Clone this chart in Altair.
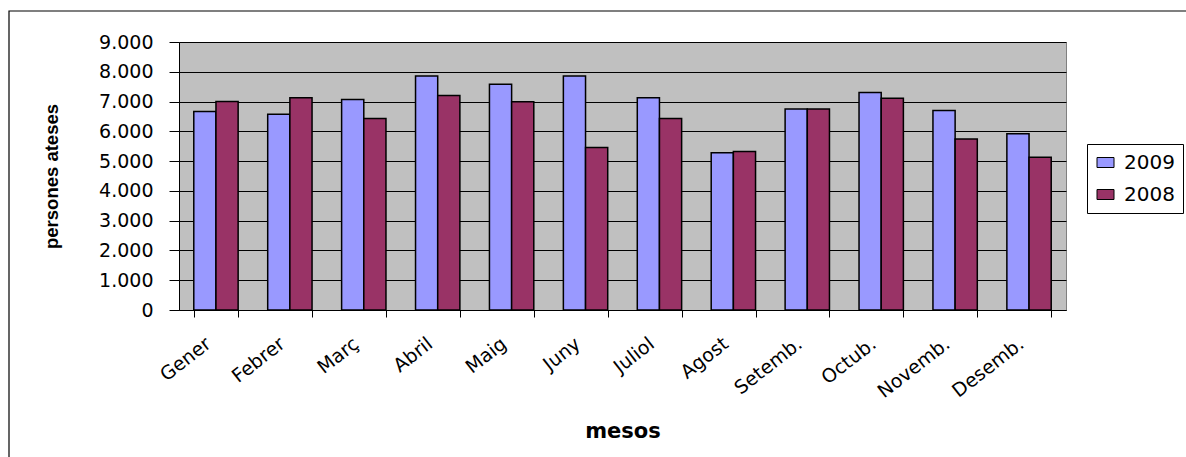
import altair as alt
import pandas as pd

# Monthly counts of people attended, two years side by side
months = ["Gener", "Febrer", "Març", "Abril", "Maig", "Juny",
          "Juliol", "Agost", "Setemb.", "Octub.", "Novemb.", "Desemb."]
years = ["2009", "2008"]
attended_2009 = [6670, 6570, 7070, 7860, 7580, 7860, 7130, 5280, 6750, 7300, 6700, 5920]
attended_2008 = [7000, 7130, 6430, 7200, 6990, 5460, 6430, 5320, 6750, 7110, 5740, 5130]
y_ticks = [0, 1000, 2000, 3000, 4000, 5000, 6000, 7000, 8000, 9000]

rows = []
for i, m in enumerate(months):
    rows.append({"mes": m, "any": "2009", "persones": attended_2009[i]})
    rows.append({"mes": m, "any": "2008", "persones": attended_2008[i]})
df = pd.DataFrame(rows)

FONT = "DejaVu Sans"
W, H = 887, 268

bars = alt.Chart(df).mark_bar(stroke="black", strokeWidth=1.5).encode(
    x=alt.X(
        "mes:N",
        sort=months,
        scale=alt.Scale(paddingInner=0.4, paddingOuter=0.2),
        axis=alt.Axis(
            title="mesos",
            titleFont=FONT,
            titleFontSize=21,
            titleFontWeight="bold",
            titleColor="black",
            titleX=W / 2,
            titleY=121,
            titleBaseline="middle",
            labelAngle=-38,
            labelAlign="right",
            labelBaseline="middle",
            labelFont=FONT,
            labelFontSize=19,
            labelColor="black",
            labelPadding=24,
            labelOffset=-8,
            tickBand="extent",
            tickSize=7,
            tickColor="black",
            domainColor="black",
            grid=False,
        ),
    ),
    xOffset=alt.XOffset("any:N", sort=years),
    y=alt.Y(
        "persones:Q",
        scale=alt.Scale(domain=[0, 9000], nice=False),
        axis=alt.Axis(
            title="persones ateses",
            titleFont="Liberation Sans",
            titleFontSize=18.5,
            titleFontWeight="bold",
            titleColor="black",
            titleX=-128,
            titleY=H / 2,
            titleAlign="center",
            titleBaseline="middle",
            values=y_ticks,
            labelExpr="replace(format(datum.value, ','), ',', '.')",
            labelFont=FONT,
            labelFontSize=19,
            labelColor="black",
            labelPadding=16,
            tickSize=10,
            tickColor="black",
            domainColor="black",
            grid=True,
            gridColor="black",
            gridWidth=1,
        ),
    ),
    color=alt.Color(
        "any:N",
        sort=years,
        scale=alt.Scale(domain=years, range=["#9999FF", "#993366"]),
        legend=alt.Legend(
            title=None,
            orient="none",
            legendX=908,
            legendY=102,
            symbolType="M-0.85,-0.5H0.85V0.5H-0.85Z",
            symbolSize=400,
            symbolStrokeColor="black",
            symbolStrokeWidth=1,
            symbolOpacity=1,
            labelFont=FONT,
            labelFontSize=20,
            labelColor="black",
            labelOffset=8,
            rowPadding=11,
            padding=8,
            strokeColor="black",
            fillColor="white",
        ),
    ),
)

# Frame around the whole chart
frame = alt.Chart(pd.DataFrame({"k": [0]})).mark_rect(
    fill=None, stroke="black", strokeWidth=1.2, clip=False
).encode(
    x=alt.value(-170),
    x2=alt.value(W + 130),
    y=alt.value(-31),
    y2=alt.value(H + 160),
)

chart = alt.layer(frame, bars).properties(
    width=W,
    height=H,
    autosize=alt.AutoSizeParams(type="none"),
    padding={"left": 179, "top": 42, "right": 120, "bottom": 147},
    background="white",
).configure_view(
    fill="#C0C0C0",
    stroke="#808080",
    strokeWidth=1,
)

chart.save("out.html", embed_options={"renderer": "svg", "actions": False})
